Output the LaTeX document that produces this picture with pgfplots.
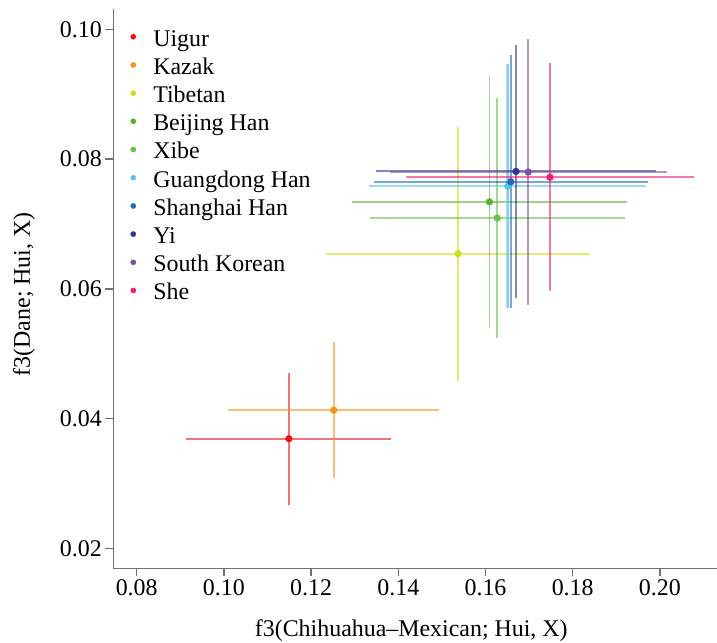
\documentclass[border=0pt]{standalone}
\usepackage{fontspec}
\setmainfont{Liberation Serif}
\usepackage{pgfplots}
\pgfplotsset{compat=1.18}
\definecolor{cUi}{HTML}{E8141C}
\definecolor{cKa}{HTML}{F7941D}
\definecolor{cTi}{HTML}{D2DC1A}
\definecolor{cBj}{HTML}{5CB130}
\definecolor{cXi}{HTML}{6BBE4A}
\definecolor{cGd}{HTML}{5BC4DE}
\definecolor{cSh}{HTML}{2468BE}
\definecolor{cYi}{HTML}{2B3990}
\definecolor{cSk}{HTML}{7E4F9E}
\definecolor{cSe}{HTML}{EC1E79}
\definecolor{axgray}{HTML}{707070}
\newcommand{\myfont}{\fontsize{24}{28}\selectfont}
\pgfplotsset{
  ebar/.style={forget plot, draw=none, mark=none,
    error bars/.cd, x dir=both, x explicit, y dir=both, y explicit, error mark=none,
    error bar style={draw=#1, line width=1.8bp, draw opacity=0.6}},
  pt/.style={forget plot, only marks, mark=*, mark size=3.4bp, color=#1, mark options={draw=#1, fill=#1}},
}
\begin{document}
\begin{tikzpicture}
\path[use as bounding box] (-113.3bp,-74.7bp) rectangle (603.7bp,568.3bp);
\begin{axis}[
  at={(0,0)}, anchor=south west,
  scale only axis, width=603.7bp, height=559.3bp,
  xmin=0.07463, xmax=0.2131, ymin=0.01692, ymax=0.10313,
  axis lines*=left,
  axis line style={draw=axgray, line width=1.5bp},
  tick align=outside, major tick length=8bp,
  tick style={draw=axgray, line width=1.5bp},
  xtick={0.08,0.10,0.12,0.14,0.16,0.18,0.20},
  ytick={0.02,0.04,0.06,0.08,0.10},
  /pgf/number format/assume math mode=true,
  xticklabel style={/pgf/number format/.cd, fixed, fixed zerofill, precision=2},
  yticklabel style={/pgf/number format/.cd, fixed, fixed zerofill, precision=2},
  scaled ticks=false,
  tick label style={font=\myfont},
  label style={font=\myfont},
  xlabel={f3(Chihuahua–Mexican; Hui, X)},
  ylabel={f3(Dane; Hui, X)},
  xlabel style={at={(axis description cs:0.4936,-0.1211)}, anchor=base},
  ylabel style={at={(axis description cs:-0.138,0.49)}, anchor=base},
  legend style={at={(axis description cs:0.0278,0.9642)}, anchor=north west,
    draw=none, fill=none, inner sep=0bp, outer sep=0bp, font=\myfont,
    nodes={inner sep=0bp, text height=17bp, text depth=6bp},
    row sep=5.2bp, column sep=0bp},
  legend cell align=left,
  legend image code/.code={\fill[#1] (0bp,3.8bp) circle (2.6bp); \path[draw=none,fill=none] (-3.2bp,0bp) -- (20bp,0bp);},
  clip=false,
]
% error bars (drawn first)
\addplot[ebar=cUi] coordinates {(0.1149,0.0369) +- (0.0235,0.0102)};
\addplot[ebar=cKa] coordinates {(0.1252,0.0413) +- (0.0242,0.0105)};
\addplot[ebar=cTi] coordinates {(0.1537,0.0654) +- (0.0303,0.0196)};
\addplot[ebar=cBj] coordinates {(0.1609,0.0734) +- (0.0316,0.0194)};
\addplot[ebar=cXi] coordinates {(0.1627,0.0709) +- (0.0292,0.0185)};
\addplot[ebar=cGd] coordinates {(0.1651,0.0758) +- (0.0318,0.0188)};
\addplot[forget plot, draw=none, mark=none,
  error bars/.cd, y dir=both, y explicit, error mark=none,
  error bar style={draw=cGd, line width=3.4bp, draw opacity=0.45}]
  coordinates {(0.1651,0.0758) +- (0,0.0188)};
\addplot[ebar=cSh] coordinates {(0.1658,0.0765) +- (0.0314,0.0195)};
\addplot[ebar=cYi] coordinates {(0.1670,0.0781) +- (0.0322,0.0195)};
\addplot[ebar=cSk] coordinates {(0.1698,0.0780) +- (0.0318,0.0205)};
\addplot[ebar=cSe] coordinates {(0.1748,0.0772) +- (0.0330,0.0176)};
% points
\addplot[pt=cUi] coordinates {(0.1149,0.0369)};
\addplot[pt=cKa] coordinates {(0.1252,0.0413)};
\addplot[pt=cTi] coordinates {(0.1537,0.0654)};
\addplot[pt=cBj] coordinates {(0.1609,0.0734)};
\addplot[pt=cXi] coordinates {(0.1627,0.0709)};
\addplot[pt=cGd] coordinates {(0.1651,0.0758)};
\addplot[pt=cSh] coordinates {(0.1658,0.0765)};
\addplot[pt=cYi] coordinates {(0.1670,0.0781)};
\addplot[pt=cSk] coordinates {(0.1698,0.0780)};
\addplot[pt=cSe] coordinates {(0.1748,0.0772)};
% legend
\addlegendimage{cUi}\addlegendentry{Uigur}
\addlegendimage{cKa}\addlegendentry{Kazak}
\addlegendimage{cTi}\addlegendentry{Tibetan}
\addlegendimage{cBj}\addlegendentry{Beijing Han}
\addlegendimage{cXi}\addlegendentry{Xibe}
\addlegendimage{cGd}\addlegendentry{Guangdong Han}
\addlegendimage{cSh}\addlegendentry{Shanghai Han}
\addlegendimage{cYi}\addlegendentry{Yi}
\addlegendimage{cSk}\addlegendentry{South Korean}
\addlegendimage{cSe}\addlegendentry{She}
\end{axis}
\end{tikzpicture}
\end{document}
